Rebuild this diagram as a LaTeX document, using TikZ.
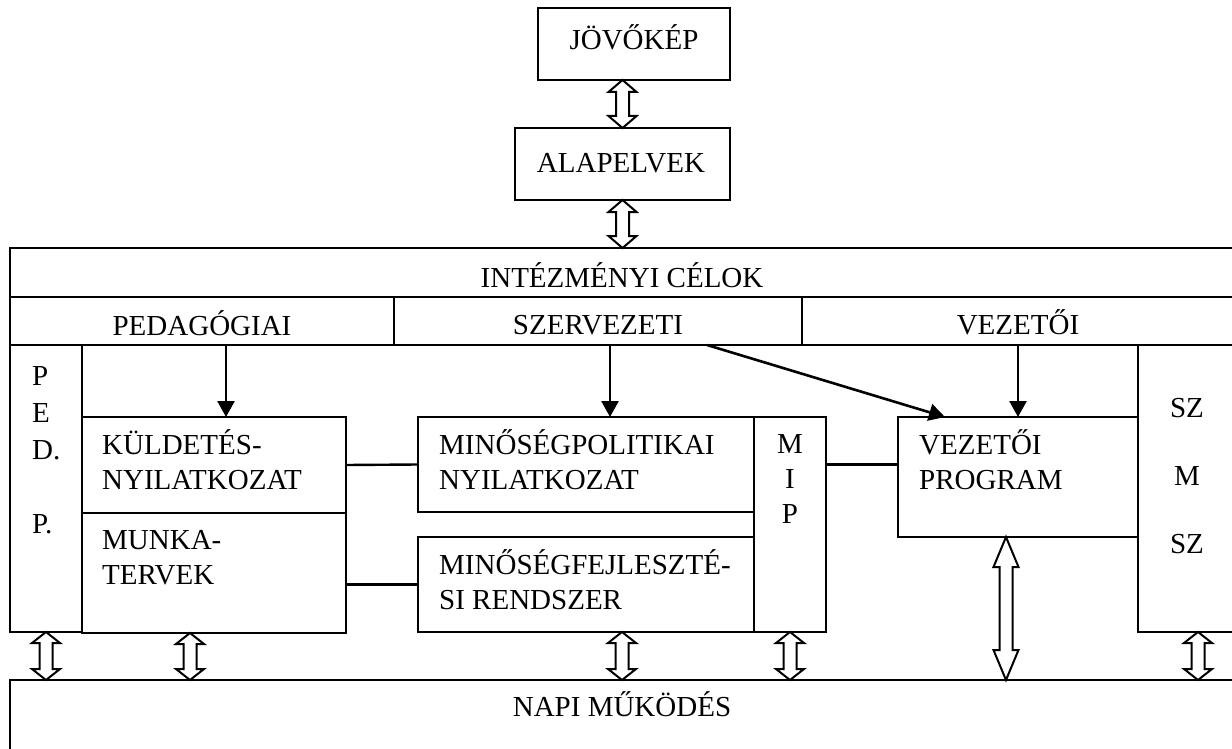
\documentclass[tikz,border=0pt]{standalone}
\usepackage{fontspec}
\setmainfont{Liberation Serif}
\usetikzlibrary{arrows.meta,calc}
\tikzset{
  box/.style 2 args = {draw, line width=2.6pt, inner sep=0pt, outer sep=0pt,
    anchor=north west, minimum width=#1pt, minimum height=#2pt},% keret
  lbl/.style = {inner sep=0pt, anchor=base west, align=left,
    font=\fontsize{29}{35}\selectfont},% balra zart felirat (alap = utolso sor)
  clbl/.style = {lbl, anchor=base, align=center},% kozepre zart felirat
  arr/.style = {-{Triangle[length=16pt,width=17pt]}, line width=2.6pt},
  conn/.style = {line width=2.4pt},
  dbl/.style = {draw, line width=2pt, fill=white, line join=miter}
}
% ketiranyu nyil: fejhossz, fel fejszelesseg, felso pont, also pont
\newcommand\dblarr[4]{%
  \draw[dbl] let \p1=#3, \p2=#4 in
    (\x1,\y1) -- (\x1-#2pt,\y1-#1pt) -- (\x1-6.5pt,\y1-#1pt)
    -- (\x1-6.5pt,\y2+#1pt) -- (\x1-#2pt,\y2+#1pt) -- (\x1,\y2)
    -- (\x1+#2pt,\y2+#1pt) -- (\x1+6.5pt,\y2+#1pt)
    -- (\x1+6.5pt,\y1-#1pt) -- (\x1+#2pt,\y1-#1pt) -- cycle;}
\begin{document}
\begin{tikzpicture}[x=1pt,y=-1pt]
\path[use as bounding box] (0,0) rectangle (1232,749);
\clip (0,0) rectangle (1232,749);
% felso dobozok
\node[box={192}{72}] (jov) at (538,8) {};
\node[box={215}{72}] (alap) at (515,128) {};
\node[clbl] (jovt) at (634,50) {JÖVŐKÉP};
\node[clbl] (alapt) at (621,172) {ALAPELVEK};
% intezmenyi celok
\node[box={1260}{49}] (cel) at (10,248) {};
\node[box={384}{48}] (ped) at (10,297) {};
\node[box={408}{48}] (szerv) at (394,297) {};
\node[box={470}{48}] (vez) at (802,297) {};
\node[clbl] (celt) at (622,287) {INTÉZMÉNYI CÉLOK};
\node[clbl] (pedt) at (202,335) {PEDAGÓGIAI};
\node[clbl] (szervt) at (598,334) {SZERVEZETI};
\node[clbl] (vezt) at (1018,334) {VEZETŐI};
% dokumentumok
\node[box={72}{287}] (pedp) at (10,345) {};
\node[box={264}{96}] (kuld) at (82,417) {};
\node[box={264}{120}] (munka) at (82,513) {};
\node[box={336}{95}] (mpn) at (418,417) {};
\node[box={336}{95}] (mfr) at (418,537) {};
\node[box={72}{215}] (mip) at (754,417) {};
\node[box={240}{120}] (vp) at (898,417) {};
\node[box={130}{287}] (szmsz) at (1138,345) {};
\node[box={1260}{100}] (napi) at (10,680) {};
\node[lbl, font=\fontsize{29}{37}\selectfont] (pedpt) at (32,533) {P\\E\\D.\\[37pt]P.};
\node[lbl] (kuldt) at (102,489) {KÜLDETÉS-\\NYILATKOZAT};
\node[lbl] (munkat) at (102,584) {MUNKA-\\TERVEK};
\node[lbl] (mpnt) at (439,489) {MINŐSÉGPOLITIKAI\\NYILATKOZAT};
\node[lbl] (mfrt) at (439,609) {MINŐSÉGFEJLESZTÉ-\\SI RENDSZER};
\node[clbl] (mipt) at (790,523) {M\\I\\P};
\node[lbl] (vpt) at (919,489) {VEZETŐI\\PROGRAM};
\node[clbl] (szmszt) at (1187,553) {SZ\\[33pt]M\\[33pt]SZ};
\node[clbl] (napit) at (622,716) {NAPI MŰKÖDÉS};
% nyilak
\draw[arr] ([xshift=24pt]ped.south) -- ([xshift=12pt]kuld.north);
\draw[arr] ([xshift=12pt]szerv.south) -- ([xshift=24pt]mpn.north);
\draw[arr] ([xshift=109pt]szerv.south) -- ([xshift=-73pt]vp.north);
\draw[arr] (vezt |- vez.south) -- (vezt |- vp.north);
\draw[conn] (kuld.east) -- (mpn.west);
\draw[conn] (mfr.west) -- (mfr.west -| munka.east);
\draw[conn] (mip.east |- mpn.east) -- (vp.west |- mpn.east);
% ketiranyu nyilak
\dblarr{12}{14}{(alap.north |- jov.south)}{(alap.north)}
\dblarr{12}{14}{(alap.south)}{(cel.north)}
\dblarr{11}{14}{(pedp.south)}{(napi.north)}
\dblarr{11}{14}{([xshift=108pt]munka.south west)}{(napi.north)}
\dblarr{11}{14}{([xshift=36pt]mfr.south)}{(napi.north)}
\dblarr{11}{14}{(mip.south)}{(napi.north)}
\dblarr{30}{12.5}{([xshift=-12pt]vp.south)}{(napi.north)}
\dblarr{11}{14}{([xshift=60pt]szmsz.south west)}{(napi.north)}
\end{tikzpicture}
\end{document}
